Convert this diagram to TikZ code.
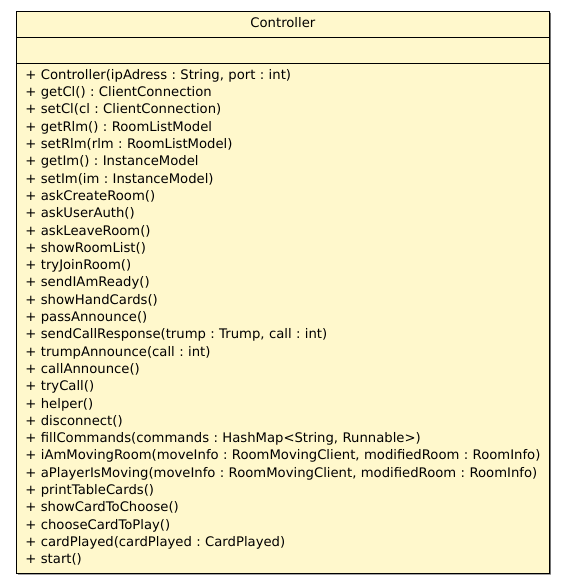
\documentclass[tikz,border=0pt]{standalone}
\usepackage{fontspec}
\setmainfont{DejaVu Sans}
\usetikzlibrary{positioning,shapes.multipart,shadows}
\definecolor{classfill}{HTML}{FFF8CC}

\begin{document}
\begin{tikzpicture}[
    every node/.style={font=\fontsize{13.2}{17.3}\selectfont\frenchspacing},
    classbox/.style={rectangle split,rectangle split parts=3,draw,line width=0.8pt,fill=classfill,
      text width=515pt,align=left,inner xsep=9pt,inner ysep=3.85pt,
      drop shadow={shadow xshift=1.5pt,shadow yshift=-1.5pt,fill=black!55,opacity=1}},
  ]
\useasboundingbox (0,0) rectangle (565pt,-583pt);

\node (controller) [classbox,anchor=north west] at (16pt,-11pt) {
\nodepart[align=center]{one}\strut Controller
\nodepart{two}\strut
\nodepart{three}\strut + Controller(ipAdress : String, port : int)\\
+ getCl() : ClientConnection\\
+ setCl(cl : ClientConnection)\\
+ getRlm() : RoomListModel\\
+ setRlm(rlm : RoomListModel)\\
+ getIm() : InstanceModel\\
+ setIm(im : InstanceModel)\\
+ askCreateRoom()\\
+ askUserAuth()\\
+ askLeaveRoom()\\
+ showRoomList()\\
+ tryJoinRoom()\\
+ sendIAmReady()\\
+ showHandCards()\\
+ passAnnounce()\\
+ sendCallResponse(trump : Trump, call : int)\\
+ trumpAnnounce(call : int)\\
+ callAnnounce()\\
+ tryCall()\\
+ helper()\\
+ disconnect()\\
+ fillCommands(commands : HashMap<String, Runnable>)\\
+ iAmMovingRoom(moveInfo : RoomMovingClient, modifiedRoom : RoomInfo)\\
+ aPlayerIsMoving(moveInfo : RoomMovingClient, modifiedRoom : RoomInfo)\\
+ printTableCards()\\
+ showCardToChoose()\\
+ chooseCardToPlay()\\
+ cardPlayed(cardPlayed : CardPlayed)\\
+ start()\strut
};
\end{tikzpicture}
\end{document}
